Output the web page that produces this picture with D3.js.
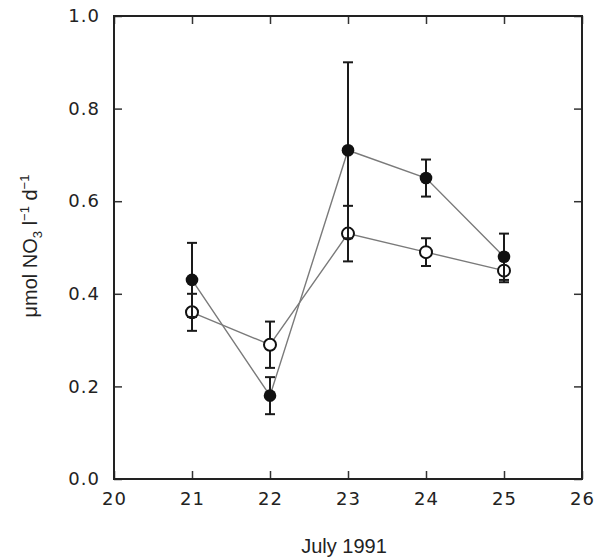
<!DOCTYPE html>
<html>
<head>
<meta charset="utf-8">
<script src="https://cdn.jsdelivr.net/npm/d3@7"></script>
<style>
  html, body { margin: 0; padding: 0; background: #fff; }
  svg { display: block; }
  .tick text { font-family: "DejaVu Sans", sans-serif; font-size: 18px; fill: #222; letter-spacing: 1px; }
  .tick line { stroke: #333; stroke-width: 1.5; }
</style>
</head>
<body>
<svg id="chart" width="605" height="558"></svg>
<script>
// Daily nitrate uptake, July 1991 (mean ± error)
const days = [21, 22, 23, 24, 25];
const filledMean = [0.43, 0.18, 0.71, 0.65, 0.48];
const filledErr  = [0.08, 0.04, 0.19, 0.04, 0.05];
const openMean   = [0.36, 0.29, 0.53, 0.49, 0.45];
const openErr    = [0.04, 0.05, 0.06, 0.03, 0.025];
const xTicks = [20, 21, 22, 23, 24, 25, 26];
const yTicks = [0.0, 0.2, 0.4, 0.6, 0.8, 1.0];

const svg = d3.select("#chart");
const plotL = 114, plotR = 582, plotT = 16, plotB = 479;

const x = d3.scaleLinear().domain([20, 26]).range([plotL, plotR]);
const y = d3.scaleLinear().domain([0, 1]).range([plotB, plotT]);

const tick = 8;

// axes with inward ticks
svg.append("g").attr("transform", `translate(0,${plotB})`)
  .call(d3.axisBottom(x).tickValues(xTicks).tickSize(-tick).tickPadding(13).tickFormat(d3.format("d")))
  .call(g => g.select(".domain").remove());
svg.append("g").attr("transform", `translate(${plotL},0)`)
  .call(d3.axisLeft(y).tickValues(yTicks).tickSize(-tick).tickPadding(14).tickFormat(d3.format(".1f")))
  .call(g => g.select(".domain").remove());
svg.append("g").attr("transform", `translate(0,${plotT})`)
  .call(d3.axisTop(x).tickValues(xTicks).tickSize(-tick).tickFormat(""))
  .call(g => g.select(".domain").remove());
svg.append("g").attr("transform", `translate(${plotR},0)`)
  .call(d3.axisRight(y).tickValues(yTicks).tickSize(-tick).tickFormat(""))
  .call(g => g.select(".domain").remove());

// frame
svg.append("rect")
  .attr("x", plotL).attr("y", plotT)
  .attr("width", plotR - plotL).attr("height", plotB - plotT)
  .attr("fill", "none").attr("stroke", "#222").attr("stroke-width", 2);

const filled = days.map((d, i) => ({ d, m: filledMean[i], e: filledErr[i] }));
const open = days.map((d, i) => ({ d, m: openMean[i], e: openErr[i] }));

const line = d3.line().x(p => x(p.d)).y(p => y(p.m));

// connecting lines
[open, filled].forEach(s => {
  svg.append("path").datum(s).attr("d", line)
    .attr("fill", "none").attr("stroke", "#7a7a7a").attr("stroke-width", 1.4);
});

function errorBars(s) {
  const g = svg.append("g").attr("stroke", "#1a1a1a").attr("stroke-width", 2);
  s.forEach(p => {
    const cx = x(p.d), y0 = y(p.m - p.e), y1 = y(p.m + p.e);
    g.append("line").attr("x1", cx).attr("x2", cx).attr("y1", y0).attr("y2", y1);
    g.append("line").attr("x1", cx - 5).attr("x2", cx + 5).attr("y1", y0).attr("y2", y0);
    g.append("line").attr("x1", cx - 5).attr("x2", cx + 5).attr("y1", y1).attr("y2", y1);
  });
}

// open series
errorBars(open);
svg.append("g").selectAll("circle").data(open).join("circle")
  .attr("cx", p => x(p.d)).attr("cy", p => y(p.m)).attr("r", 6)
  .attr("fill", "#fff").attr("stroke", "#111").attr("stroke-width", 2);

// filled series
errorBars(filled);
svg.append("g").selectAll("circle").data(filled).join("circle")
  .attr("cx", p => x(p.d)).attr("cy", p => y(p.m)).attr("r", 6.3)
  .attr("fill", "#111");

// axis titles
svg.append("text")
  .attr("x", 344).attr("y", 553)
  .attr("text-anchor", "middle")
  .attr("font-family", "Liberation Sans, Arial, sans-serif")
  .attr("font-size", 20).attr("fill", "#222")
  .text("July 1991");

const yl = svg.append("text")
  .attr("transform", "translate(37,246) rotate(-90)")
  .attr("text-anchor", "middle")
  .attr("font-family", "Liberation Sans, Arial, sans-serif")
  .attr("font-size", 20).attr("fill", "#222");
yl.append("tspan").text("μmol NO");
yl.append("tspan").attr("font-size", 13).attr("dy", 5).text("3");
yl.append("tspan").attr("dy", -5).text(" l");
yl.append("tspan").attr("font-size", 13).attr("dy", -8).text("−1");
yl.append("tspan").attr("dy", 8).text(" d");
yl.append("tspan").attr("font-size", 13).attr("dy", -8).text("−1");
</script>
</body>
</html>
